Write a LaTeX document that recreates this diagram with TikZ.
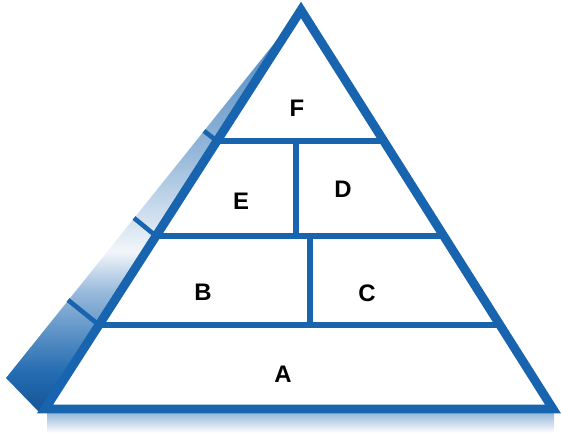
\documentclass[tikz,border=0pt]{standalone}
\usepackage{fontspec}
\setmainfont{Liberation Sans}

\definecolor{pyrblue}{RGB}{24,100,174}

% shading of the left side face, from the base (dark) to the apex
\pgfdeclareverticalshading{sidefade}{100bp}{%
  color(0bp)=(pyrblue!85!black);
  color(25bp)=(pyrblue!85!black);
  color(30bp)=(pyrblue!95!white);
  color(35bp)=(pyrblue!70!white);
  color(40bp)=(pyrblue!45!white);
  color(45bp)=(pyrblue!6!white);
  color(50bp)=(pyrblue!22!white);
  color(57bp)=(pyrblue!45!white);
  color(64bp)=(pyrblue!60!white);
  color(75bp)=(pyrblue!80!white);
  color(100bp)=(pyrblue!80!white)}

\tikzset{
  rim/.style={draw=pyrblue, line width=6.3pt, line join=miter},
  part/.style={draw=pyrblue, line width=3.9pt},
  letter/.style={font=\fontsize{17}{20}\selectfont\bfseries},
}

\begin{document}
\begin{tikzpicture}[x=0.025cm, y=-0.025cm]
    \useasboundingbox (0,0) rectangle (561,440);

    % corners
    \coordinate (top) at (301,10);
    \coordinate (bl) at (45,409);
    \coordinate (br) at (553,409);
    \coordinate (edge) at (6,378);

    % shadow under the base
    \shade[top color=pyrblue!45!white, bottom color=white] (47,413) rectangle (554,433);

    % side face
    \shade[shading=sidefade] (top) -- (edge) -- (40,413) -- (bl) -- cycle;
    \draw[part, line width=3.3pt] (217,141) -- (204,131);
    \draw[part, line width=3.3pt] (156,236) -- (134,218);
    \draw[part, line width=3.3pt] (99,325) -- (68,300);

    % front face
    \fill[white] (top) -- (bl) -- (br) -- cycle;

    % layers
    \draw[part] (217,141) -- (384,141);
    \draw[part] (156,236) -- (444,236);
    \draw[part] (99,325) -- (500,325);
    \draw[part] (296,141) -- (296,236);
    \draw[part] (310,236) -- (310,325);

    \draw[rim] (top) -- (bl) -- (br) -- cycle;

    % labels
    \node[letter] (F) at (297,108) {F};
    \node[letter] (E) at (241,201) {E};
    \node[letter] (D) at (343,189) {D};
    \node[letter] (B) at (203,292) {B};
    \node[letter] (C) at (367,293) {C};
    \node[letter] (A) at (283,374) {A};

\end{tikzpicture}
\end{document}
